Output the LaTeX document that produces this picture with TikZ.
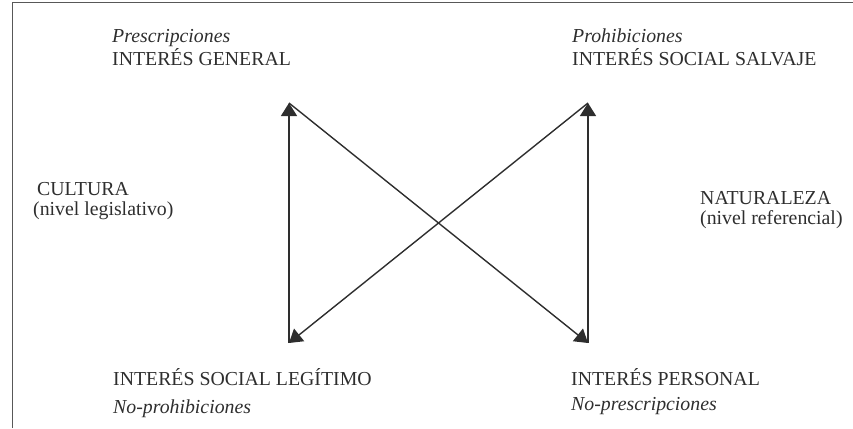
\documentclass[tikz,border=0pt]{standalone}
\usepackage{fontspec}
\setmainfont{Liberation Serif}
\usetikzlibrary{positioning,arrows.meta}
\definecolor{tinta}{HTML}{2E2E2E}
\tikzset{
  lbl/.style={anchor=base west,inner sep=0pt,text=tinta,font=\fontsize{19.8}{22}\selectfont},
  flecha/.style={-{Triangle[width=16pt,length=13pt]},line width=1.4pt,draw=tinta}
}
\begin{document}
\begin{tikzpicture}[x=1pt,y=-1pt]
\useasboundingbox (0,0) rectangle (853,428);
% marco (cortado a la derecha y abajo)
\draw[line width=1pt,draw=tinta!80] (12,428) -- (12,3) -- (853,3);
% esquinas del cuadrado semiotico
\coordinate (tl) at (289,103);
\coordinate (tr) at (588,103);
\coordinate (bl) at (289,343);
\coordinate (br) at (588,343);
% textos superiores
\node[lbl] (presc) at (112,43) {\itshape Prescripciones};
\node[lbl] (gen) at (112,65) {INTERÉS GENERAL};
\node[lbl] (prohib) at (572,43) {\itshape Prohibiciones};
\node[lbl] (salv) at (572,65) {INTERÉS SOCIAL SALVAJE};
% textos laterales
\node[lbl] (cult) at (37,195) {CULTURA};
\node[lbl] (legis) at (33,215) {(nivel legislativo)};
\node[lbl] (natu) at (700,204) {NATURALEZA};
\node[lbl] (refer) at (700,224) {(nivel referencial)};
% textos inferiores
\node[lbl] (legit) at (113,385) {INTERÉS SOCIAL LEGÍTIMO};
\node[lbl] (noproh) at (113,413) {\itshape No-prohibiciones};
\node[lbl] (pers) at (571,385) {INTERÉS PERSONAL};
\node[lbl] (nopresc) at (571,410) {\itshape No-prescripciones};
% relaciones
\draw[flecha] (bl) -- (tl);
\draw[flecha] (br) -- (tr);
\draw[flecha] (tl) -- (br);
\draw[flecha] (tr) -- (bl);
\end{tikzpicture}
\end{document}
